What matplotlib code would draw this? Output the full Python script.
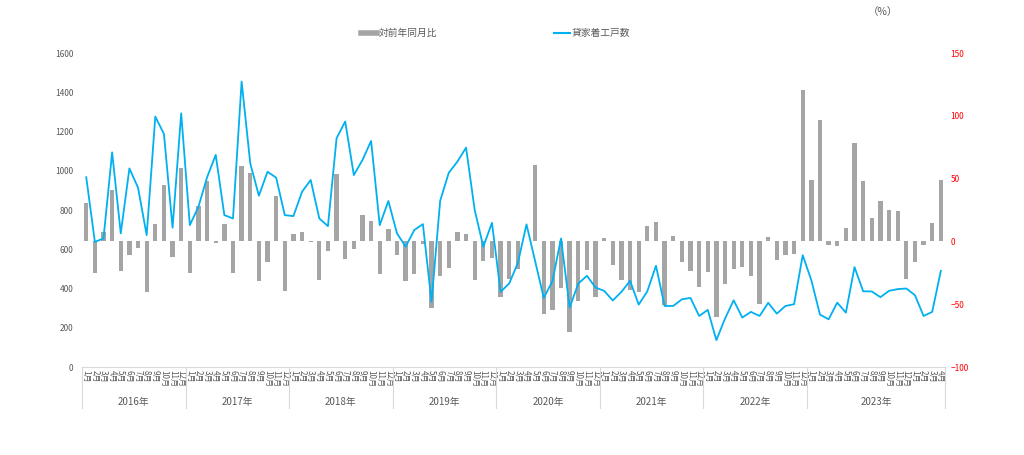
import matplotlib.pyplot as plt
import matplotlib.transforms as mtransforms
from matplotlib.lines import Line2D
import numpy as np

plt.rcParams['font.family'] = ['Noto Sans CJK JP', 'DejaVu Sans']

# 貸家着工戸数 (left axis), Jan 2016 .. Apr 2024
starts = [
    967, 638, 655, 1094, 681, 1012, 914, 672, 1276, 1188, 710, 1293,
    723, 817, 967, 1081, 774, 757, 1455, 1038, 873, 995, 965, 774,
    769, 893, 953, 757, 718, 1166, 1251, 978, 1055, 1152, 723, 846,
    681, 613, 698, 728, 332, 847, 990, 1047, 1118, 800, 613, 735,
    383, 426, 530, 727, 540, 352, 437, 655, 303, 425, 465, 405,
    388, 339, 383, 439, 318, 386, 516, 311, 311, 345, 352, 260,
    291, 137, 247, 340, 252, 281, 260, 327, 272, 311, 320, 570,
    442, 267, 243, 328, 277, 509, 386, 385, 356, 388, 397, 400, 366, 260, 281, 490,
]

# 対前年同月比 (%) (right axis)
yoy = [
    30.2, -25.5, 7.7, 40.6, -23.6, -11.1, -5.6, -40.6, 14.1, 44.6, -12.5, 58.1,
    -24.9, 28.1, 47.8, -1.3, 14.1, -25.5, 60.0, 54.4, -31.6, -16.2, 35.8, -39.5,
    6.1, 7.7, -0.8, -30.5, -7.7, 53.9, -14.3, -6.1, 21.0, 15.9, -25.7, 9.6,
    -10.9, -31.6, -26.3, -2.4, -53.3, -27.3, -21.5, 7.4, 6.1, -30.5, -15.7, -13.0,
    -44.3, -30.2, -22.3, 0.5, 60.8, -58.1, -54.7, -37.1, -72.4, -47.8, -23.1, -44.0,
    2.9, -19.1, -30.5, -39.0, -40.3, 12.2, 15.1, -50.7, 4.5, -16.2, -23.6, -36.1,
    -24.4, -60.2, -33.7, -21.8, -20.4, -27.3, -49.6, 3.4, -14.9, -10.9, -10.1, 120.7,
    48.8, 96.3, -2.7, -3.7, 10.3, 78.5, 48.3, 18.3, 32.1, 25.2, 23.9, -30.0, -16.7, -3.2, 14.6, 49.3,
]

years = ["2016年", "2017年", "2018年", "2019年", "2020年", "2021年", "2022年", "2023年"]
months_per_group = [12, 12, 12, 12, 12, 12, 12, 16]
month_labels = []
for n in months_per_group:
    month_labels += [f"{(m % 12) + 1}月" for m in range(n)]

x = np.arange(len(starts))
gray_txt = "#595959"
blue = "#00B0F0"
bar_gray = "#A5A5A5"

fig = plt.figure(figsize=(10.24, 4.55), dpi=100)
ax = fig.add_axes([0.080, 0.1934, 0.843, 0.690])
ax2 = ax.twinx()

# bars on the right axis, line on the left axis drawn above them
ax2.bar(x, yoy, width=0.5, color=bar_gray, zorder=1)
ax.plot(x, starts, color=blue, lw=1.3, zorder=3)
ax.set_zorder(ax2.get_zorder() + 1)
ax.patch.set_visible(False)

ax.set_xlim(-0.5, len(x) - 0.5)
ax.set_ylim(0, 1600)
ax.set_yticks(range(0, 1601, 200))
ax2.set_ylim(-100, 150)
ax2.set_yticks(range(-100, 151, 50))

for a in (ax, ax2):
    for s in a.spines.values():
        s.set_visible(False)
ax.spines['bottom'].set_visible(True)
ax.spines['bottom'].set_color("#D9D9D9")

ax.tick_params(axis='y', length=0, labelsize=6, labelcolor=gray_txt, pad=6)
ax2.tick_params(axis='y', length=0, labelsize=6, labelcolor="#FF0000", pad=4)
ax.set_xticks(x)
ax.set_xticklabels(month_labels, rotation=-90, fontsize=5.8, color=gray_txt)
ax.tick_params(axis='x', length=0, pad=2)

# year groups under the month labels
trans = mtransforms.blended_transform_factory(ax.transData, ax.transAxes)
edges = np.concatenate([[0], np.cumsum(months_per_group)]) - 0.5
for e in edges:
    ax.add_line(Line2D([e, e], [0, -0.13], transform=trans, color="#D9D9D9",
                       lw=0.8, clip_on=False))
for i, yr in enumerate(years):
    mid = (edges[i] + edges[i + 1]) / 2
    ax.text(mid, -0.112, yr, transform=trans, ha='center', va='center',
            fontsize=7, color=gray_txt)

handles = [Line2D([], [], color=bar_gray, lw=4),
           Line2D([], [], color=blue, lw=1.5)]
fig.legend(handles, ["対前年同月比", "貸家着工戸数"], loc='center',
           bbox_to_anchor=(0.484, 0.927), ncol=2, frameon=False, fontsize=7,
           handlelength=1.6, handletextpad=0.2, columnspacing=12.0,
           labelcolor=gray_txt)
fig.text(0.862, 0.973, "（%）", ha='center', va='center', fontsize=7.5, color=gray_txt)

fig.savefig("out.png", dpi=100)
